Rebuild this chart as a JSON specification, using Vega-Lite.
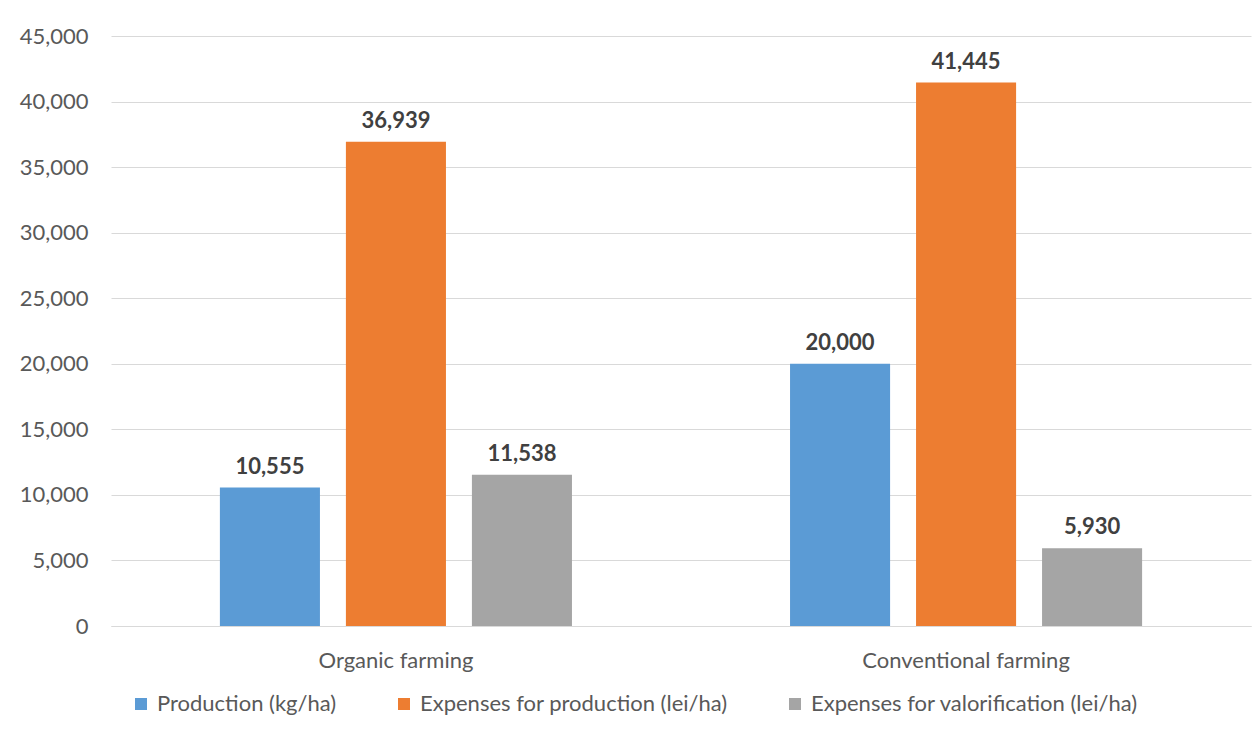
{
  "$schema": "https://vega.github.io/schema/vega-lite/v6.json",
  "width": 1140,
  "height": 590,
  "autosize": {"type": "none"},
  "padding": {"left": 111, "top": 36, "right": 7, "bottom": 103},
  "background": "white",
  "config": {"view": {"stroke": null}, "font": "Lato"},
  "data": {
    "values": [
      {"farming": "Organic farming", "series": "Production (kg/ha)", "value": 10555},
      {"farming": "Organic farming", "series": "Expenses for production (lei/ha)", "value": 36939},
      {"farming": "Organic farming", "series": "Expenses for valorification (lei/ha)", "value": 11538},
      {"farming": "Conventional farming", "series": "Production (kg/ha)", "value": 20000},
      {"farming": "Conventional farming", "series": "Expenses for production (lei/ha)", "value": 41445},
      {"farming": "Conventional farming", "series": "Expenses for valorification (lei/ha)", "value": 5930}
    ]
  },
  "encoding": {
    "x": {
      "field": "farming",
      "type": "nominal",
      "sort": ["Organic farming", "Conventional farming"],
      "scale": {"paddingInner": 0.3825, "paddingOuter": 0.191},
      "axis": {
        "title": null,
        "labelAngle": 0,
        "ticks": false,
        "tickSize": 0,
        "domain": true,
        "domainColor": "#D9D9D9",
        "domainWidth": 1,
        "labelFont": "Lato",
        "labelFontSize": 22,
        "labelColor": "#595959",
        "labelPadding": 41,
        "labelBaseline": "alphabetic",
        "labelLimit": 0
      }
    },
    "xOffset": {
      "field": "series",
      "type": "nominal",
      "sort": ["Production (kg/ha)", "Expenses for production (lei/ha)", "Expenses for valorification (lei/ha)"],
      "scale": {"paddingInner": 0.206, "paddingOuter": 0}
    },
    "y": {
      "field": "value",
      "type": "quantitative",
      "scale": {"domain": [0, 45000], "nice": false},
      "axis": {
        "title": null,
        "values": [0, 5000, 10000, 15000, 20000, 25000, 30000, 35000, 40000, 45000],
        "format": ",.0f",
        "grid": true,
        "gridColor": "#D9D9D9",
        "gridWidth": 1,
        "domain": false,
        "ticks": false,
        "labelFont": "Lato",
        "labelFontSize": 22,
        "labelColor": "#595959",
        "labelPadding": 23
      }
    }
  },
  "layer": [
    {
      "mark": {"type": "bar"},
      "encoding": {
        "color": {
          "field": "series",
          "type": "nominal",
          "sort": ["Production (kg/ha)", "Expenses for production (lei/ha)", "Expenses for valorification (lei/ha)"],
          "scale": {"range": ["#5B9BD5", "#ED7D31", "#A5A5A5"]},
          "legend": {
            "orient": "none",
            "legendX": 19,
            "legendY": 657,
            "direction": "horizontal",
            "title": null,
            "symbolType": "square",
            "symbolSize": 144,
            "symbolStrokeWidth": 0,
            "labelFont": "Lato",
            "labelFontSize": 22,
            "labelColor": "#595959",
            "labelOffset": 5,
            "labelLimit": 0,
            "columnPadding": 56
          }
        }
      }
    },
    {
      "mark": {"type": "text", "baseline": "alphabetic", "dy": -14, "fontWeight": "bold", "fontSize": 22, "font": "Lato", "color": "#404040"},
      "encoding": {"text": {"field": "value", "type": "quantitative", "format": ",.0f"}}
    }
  ]
}
